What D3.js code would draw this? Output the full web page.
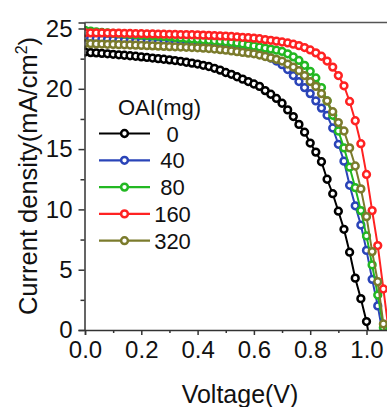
<!DOCTYPE html>
<html><head><meta charset="utf-8">
<script src="https://cdn.jsdelivr.net/npm/d3@7"></script>
<style>
html,body{margin:0;padding:0;background:#fff;overflow:hidden}
svg{display:block;font-family:"Liberation Sans",Arial,sans-serif}
</style></head><body>
<svg id="c" width="387" height="407"></svg>
<script>
// ---- data ----
const voltageStep = 0.02;
const seriesNames = ["0", "40", "80", "160", "320"];
const seriesColors = ["#000000", "#2a44b8", "#22b822", "#ff2222", "#7b7b2c"];
const J0 = [23.05,23.0,22.98,22.94,22.9,22.86,22.82,22.78,22.74,22.7,22.65,22.6,22.55,22.5,22.45,22.4,22.34,22.28,22.2,22.13,22.05,21.95,21.85,21.7,21.55,21.35,21.2,21.0,20.8,20.6,20.4,20.2,19.85,19.55,19.2,18.8,18.25,17.7,17.05,16.4,15.5,14.75,13.95,12.5,11.3,9.85,8.35,6.45,4.3,2.6,0.7,-2.0];
const J40 = [24.2,24.17,24.14,24.11,24.08,24.05,24.02,23.99,23.96,23.93,23.9,23.87,23.84,23.81,23.78,23.75,23.71,23.67,23.63,23.59,23.55,23.5,23.45,23.4,23.35,23.3,23.24,23.18,23.11,23.03,22.95,22.85,22.72,22.55,22.3,22.0,21.6,21.1,20.6,20.1,19.6,19.0,18.4,17.8,16.75,15.4,14.0,12.0,10.3,8.7,6.6,4.2,2.0,-0.6];
const J80 = [24.85,24.78,24.72,24.67,24.63,24.6,24.57,24.54,24.51,24.48,24.45,24.42,24.39,24.36,24.33,24.3,24.26,24.22,24.18,24.14,24.1,24.06,24.02,23.98,23.94,23.9,23.85,23.79,23.72,23.64,23.55,23.47,23.38,23.29,23.2,23.1,22.9,22.65,22.35,21.95,21.45,20.9,20.1,19.0,17.8,16.5,15.1,13.5,11.8,9.9,7.8,5.4,2.9,0.2,-2.6];
const J160 = [24.65,24.64,24.63,24.63,24.62,24.61,24.61,24.6,24.59,24.58,24.57,24.56,24.55,24.54,24.53,24.52,24.51,24.5,24.49,24.48,24.47,24.45,24.43,24.41,24.39,24.37,24.34,24.31,24.27,24.24,24.2,24.15,24.08,24.02,23.95,23.88,23.8,23.7,23.58,23.42,23.22,22.98,22.7,22.3,21.8,21.1,20.25,18.95,17.35,15.45,12.9,9.9,7.0,3.4,-0.3];
const J320 = [23.75,23.74,23.72,23.71,23.69,23.68,23.66,23.65,23.63,23.62,23.6,23.58,23.56,23.54,23.52,23.5,23.48,23.46,23.44,23.42,23.4,23.37,23.34,23.3,23.25,23.2,23.14,23.08,23.02,22.96,22.9,22.8,22.68,22.56,22.44,22.3,22.05,21.8,21.5,21.1,20.6,20.2,19.6,19.0,18.1,17.2,16.5,15.1,13.6,11.7,9.4,6.5,4.0,0.5,-3.0];
const seriesValues = [J0, J40, J80, J160, J320];
const xTicks = [0, 0.2, 0.4, 0.6, 0.8, 1.0];
const xMinorTicks = [0.1, 0.3, 0.5, 0.7, 0.9];
const yTicks = [0, 5, 10, 15, 20, 25];
const yMinorTicks = [2.5, 7.5, 12.5, 17.5, 22.5];
const legendTitle = "OAI(mg)";
const xTitle = "Voltage(V)";

// ---- layout ----
const svg = d3.select("#c");
const pL = 84.5, pT = 22.5, pB = 330;
const x = d3.scaleLinear().domain([0, 1.1]).range([85, 85 + 1.1 * 281.5]);
const y = d3.scaleLinear().domain([0, 25.5]).range([pB, pB - 25.5 * 12.06]);
const pR = x(1.1);

svg.append("defs").append("clipPath").attr("id", "clip")
  .append("rect").attr("x", pL).attr("y", pT).attr("width", pR - pL).attr("height", pB - pT);

const plot = svg.append("g").attr("clip-path", "url(#clip)");
const line = d3.line().x((d, i) => x(i * voltageStep)).y(d => y(d));

seriesValues.forEach((vals, k) => {
  const col = seriesColors[k];
  const g = plot.append("g");
  g.append("path").datum(vals).attr("d", line).attr("fill", "none")
    .attr("stroke", col).attr("stroke-width", 2);
  g.selectAll("circle").data(vals).join("circle")
    .attr("cx", (d, i) => x(i * voltageStep)).attr("cy", d => y(d))
    .attr("r", 3.4).attr("fill", "#fff").attr("stroke", col).attr("stroke-width", 2.5);
});

// axes
const axColor = "#333";
const xAxis = svg.append("g").attr("transform", `translate(0,${pB})`)
  .call(d3.axisBottom(x).tickValues(xTicks).tickFormat(d3.format(".1f")).tickSize(5).tickPadding(6));
svg.append("g").attr("transform", `translate(0,${pB})`)
  .call(d3.axisBottom(x).tickValues(xMinorTicks).tickFormat("").tickSize(3))
  .call(g => g.select(".domain").remove());
const yAxis = svg.append("g").attr("transform", `translate(${pL},0)`)
  .call(d3.axisLeft(y).tickValues(yTicks).tickSize(6).tickPadding(6));
svg.append("g").attr("transform", `translate(${pL},0)`)
  .call(d3.axisLeft(y).tickValues(yMinorTicks).tickFormat("").tickSize(4))
  .call(g => g.select(".domain").remove());

svg.selectAll(".tick line").attr("stroke", axColor).attr("stroke-width", 1.5);
svg.selectAll(".domain").attr("stroke", axColor).attr("stroke-width", 1.5);
xAxis.selectAll("text").attr("font-size", 24).attr("fill", "#111").attr("font-family", "Liberation Sans, Arial, sans-serif");
yAxis.selectAll("text").attr("font-size", 24).attr("fill", "#111").attr("font-family", "Liberation Sans, Arial, sans-serif");

// top border
svg.append("line").attr("x1", pL).attr("x2", 387).attr("y1", pT).attr("y2", pT)
  .attr("stroke", "#555").attr("stroke-width", 1.5);

// titles
svg.append("text").attr("x", 240).attr("y", 403).attr("text-anchor", "middle")
  .attr("font-size", 25).attr("fill", "#111").text(xTitle);
const yt = svg.append("text").attr("transform", "translate(37,176) rotate(-90)")
  .attr("text-anchor", "middle").attr("font-size", 25.5).attr("fill", "#111");
yt.append("tspan").text("Current density(mA/cm");
yt.append("tspan").attr("font-size", 16).attr("dy", -10).text("2");
yt.append("tspan").attr("dy", 10).text(")");

// legend
svg.append("text").attr("x", 118).attr("y", 115).attr("font-size", 22).attr("fill", "#111").text(legendTitle);
seriesNames.forEach((name, k) => {
  const ly = 133.5 + k * 26.8;
  const col = seriesColors[k];
  svg.append("line").attr("x1", 99).attr("x2", 150).attr("y1", ly).attr("y2", ly)
    .attr("stroke", col).attr("stroke-width", 2.2);
  svg.append("circle").attr("cx", 124.5).attr("cy", ly).attr("r", 3.4)
    .attr("fill", "#fff").attr("stroke", col).attr("stroke-width", 2.5);
  svg.append("text").attr("x", 172.5).attr("y", ly + 8).attr("text-anchor", "middle")
    .attr("font-size", 22).attr("fill", "#111").text(name);
});
</script>
</body></html>
